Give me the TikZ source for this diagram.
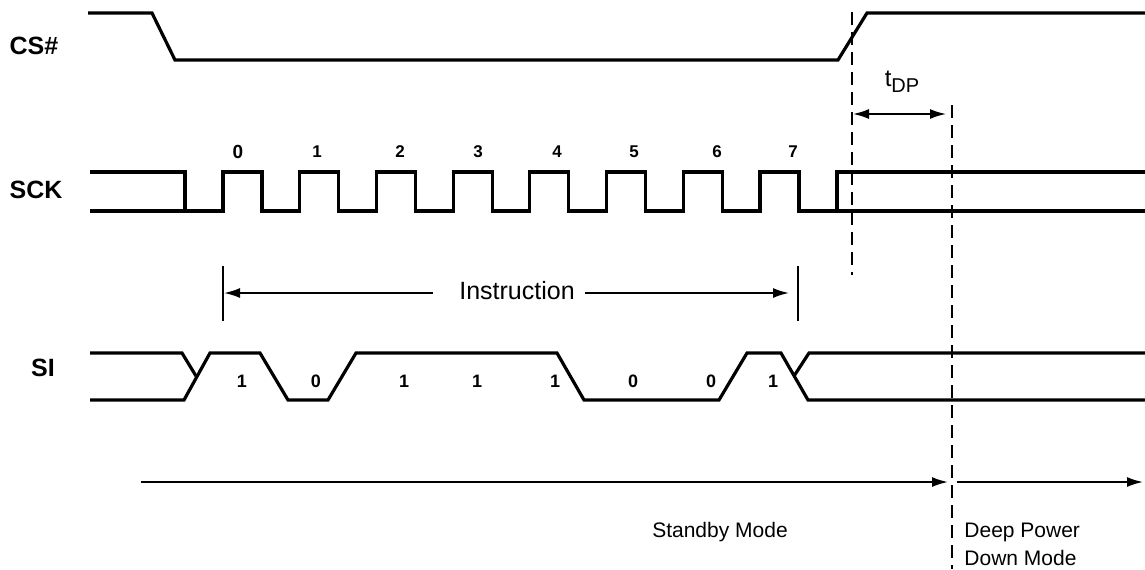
\documentclass[tikz,border=0pt]{standalone}
\usepackage{fontspec}
\setmainfont{Liberation Sans}
\usetikzlibrary{arrows.meta}
\begin{document}
\begin{tikzpicture}[x=0.5pt,y=-0.5pt,
  sig/.style={line width=1.6pt,line join=miter},
  sname/.style={font=\fontsize{12.5}{14}\selectfont\bfseries},
  bitlbl/.style={font=\fontsize{8.5}{9}\selectfont\bfseries},
  guide/.style={line width=1pt,dash pattern=on 6.5pt off 3.5pt},
  bar/.style={line width=0.9pt},
  tip/.style={line width=0.9pt,-{Latex[length=8pt,width=5pt]}}]
  \useasboundingbox (0,0) rectangle (1145,569);
  % signal names
  \node[sname] (cs) at (34,46) {CS\#};
  \node[sname] (sck) at (36,190) {SCK};
  \node[sname] (si) at (43,368) {SI};
  % CS#
  \draw[sig] (88,13) -- (152,13) -- (175,60) -- (838,60) -- (867,13) -- (1145,13);
  % SCK, clocks 0..7
  \draw[sig] (90,172) -- (185,172) -- (185,211);
  \draw[sig] (90,211) -- (185,211)
    foreach \i in {0,...,7} { -- ({223+76.7*\i},211) -- ++(0,-39) -- ++(39,0) -- ++(0,39) }
    -- (837,211) -- (837,172) -- (1145,172);
  \draw[sig] (837,211) -- (1145,211);
  \node[bitlbl,font=\fontsize{9.5}{10}\selectfont\bfseries] (ck0) at (238,152) {0};
  \foreach \n/\x in {1/317,2/400,3/478,4/557,5/634,6/717,7/793} % clock numbers
    \node[bitlbl] (ck\n) at (\x,152) {\n};
  % SI
  \draw[sig] (90,353) -- (182,353) -- (196,376);
  \draw[sig] (90,400) -- (184,400) -- (210,353) -- (260,353) -- (288,400) -- (328,400)
    -- (356,353) -- (557,353) -- (584,400) -- (719,400) -- (747,353) -- (781,353)
    -- (808,400) -- (1145,400);
  \draw[sig] (794,376) -- (809,353) -- (1145,353);
  \foreach \b/\x [count=\k] in {1/242,0/316,1/404,1/477,1/555,0/633,0/711,1/773} % data bits
    \node[bitlbl,font=\fontsize{9}{10}\selectfont\bfseries] (bit\k) at (\x,381) {\b};
  % instruction span
  \draw[bar] (223,266) -- (223,321);
  \draw[bar] (798,266) -- (798,321);
  \coordinate (insL) at (224,293);
  \coordinate (insR) at (789,293);
  \node[font=\fontsize{12.5}{14}\selectfont,inner sep=0pt] (ins) at (517,291) {Instruction};
  \draw[tip,shorten <=13pt] (ins.west |- insL) -- (insL);
  \draw[tip,shorten <=5pt] (ins.east |- insR) -- (insR);
  % tDP
  \draw[guide] (852,12) -- (852,275);
  \draw[guide] (952,105) -- (952,569);
  \coordinate (dpL) at (853,114);
  \coordinate (dpR) at (946,114);
  \draw[line width=0.9pt,{Latex[length=8pt,width=5pt]}-{Latex[length=8pt,width=5pt]}] (dpL) -- (dpR);
  \node[font=\fontsize{12}{14}\selectfont] (tdp) at (902,82) {t\raisebox{-0.45ex}{\fontsize{10}{12}\selectfont DP}};
  % modes
  \coordinate (sbL) at (141,482);
  \coordinate (sbR) at (948,482);
  \coordinate (pdL) at (957,482);
  \coordinate (pdR) at (1143,482);
  \draw[tip] (sbL) -- (sbR);
  \draw[tip] (pdL) -- (pdR);
  \node[font=\fontsize{10.5}{14}\selectfont] (stb) at (720,532) {Standby Mode};
  \node[font=\fontsize{10.5}{14}\selectfont,align=left,anchor=west,inner xsep=0pt,inner ysep=1pt] (dpd) at (964,544) {Deep Power\\Down Mode};
\end{tikzpicture}
\end{document}
